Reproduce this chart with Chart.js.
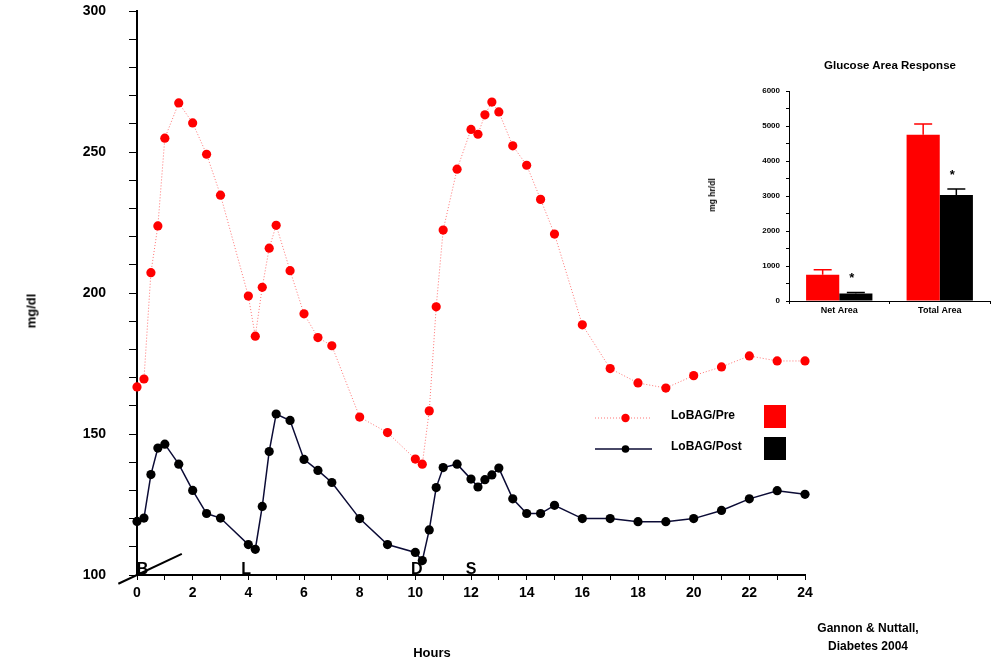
<!DOCTYPE html>
<html>
<head>
<meta charset="utf-8">
<script src="https://cdn.jsdelivr.net/npm/chart.js@4"></script>
<style>
  body { margin: 0; background: #fff; width: 993px; height: 662px; position: relative; overflow: hidden;
         font-family: "Liberation Sans", Arial, sans-serif; font-weight: bold; color: #000; }
  #main { position: absolute; left: 0; top: 0; }
  #inset { position: absolute; left: 700px; top: 50px; }
  .lbl { position: absolute; white-space: nowrap; transform: translate(-50%, -50%); }
  .rot { transform: translate(-50%, -50%) rotate(-90deg); }
</style>
</head>
<body>
<canvas id="main" width="993" height="662"></canvas>
<canvas id="inset" width="293" height="275"></canvas>

<div class="lbl rot" style="left:31px; top:311px; font-size:13px;">mg/dl</div>
<div class="lbl" style="left:432px; top:652px; font-size:13px;">Hours</div>
<div class="lbl" style="left:868px; top:628px; font-size:12px;">Gannon &amp; Nuttall,</div>
<div class="lbl" style="left:868px; top:646px; font-size:12px;">Diabetes 2004</div>
<div class="lbl" style="left:890px; top:65px; font-size:11.5px;">Glucose Area Response</div>
<div class="lbl rot" style="left:712px; top:195px; font-size:8.5px;">mg hr/dl</div>

<script>
// time points (hours) shared by both curves
const hours = [0, 0.25, 0.5, 0.75, 1, 1.5, 2, 2.5, 3, 4, 4.25, 4.5, 4.75, 5, 5.5, 6, 6.5, 7, 8, 9,
               10, 10.25, 10.5, 10.75, 11, 11.5, 12, 12.25, 12.5, 12.75, 13, 13.5, 14, 14.5, 15,
               16, 17, 18, 19, 20, 21, 22, 23, 24];

// glucose mg/dl
const preGlucose = [166.7, 169.5, 207.2, 223.8, 254.9, 267.4, 260.3, 249.2, 234.7, 198.9, 184.7, 202, 215.9, 224,
                    207.9, 192.6, 184.2, 181.3, 156, 150.5, 141.1, 139.3, 158.2, 195.1, 222.3, 243.9, 258,
                    256.3, 263.2, 267.7, 264.2, 252.2, 245.3, 233.2, 220.9, 188.7, 173.2, 168.1, 166.3,
                    170.7, 173.8, 177.7, 175.9, 175.9];
const postGlucose = [119, 120.2, 135.6, 145, 146.4, 139.3, 130, 121.8, 120.2, 110.8, 109.1, 124.3, 143.8, 157.1,
                     154.8, 141, 137.1, 132.8, 120, 110.8, 108, 105.1, 116, 131, 138.1, 139.3, 134, 131.2,
                     133.8, 135.5, 137.9, 127, 121.8, 121.8, 124.7, 120, 120, 118.9, 118.9, 120, 122.9, 127,
                     129.9, 128.6];

const seriesNames = ['LoBAG/Pre', 'LoBAG/Post'];

// meal markers
const mealLetters = ['B', 'L', 'D', 'S'];
const mealHours = [0.2, 3.92, 10.05, 12.0];

// inset: glucose area response
const areaCategories = ['Net Area', 'Total Area'];
const areaPre = [750, 4750];
const areaPost = [215, 3030];
const areaPreErr = [140, 310];
const areaPostErr = [25, 170];
const areaSignificant = [true, true];

const FONT = '"Liberation Sans", Arial, sans-serif';
const RED = '#ff0000';

Chart.defaults.font.family = FONT;
Chart.defaults.color = '#000';

const toXY = arr => arr.map((v, i) => ({ x: hours[i], y: v }));

const mainExtras = {
  id: 'mainExtras',
  afterDraw(chart) {
    const ctx = chart.ctx;
    const xs = chart.scales.x, ys = chart.scales.y;
    ctx.save();
    // slanted line near origin
    ctx.strokeStyle = '#000';
    ctx.lineWidth = 2;
    ctx.beginPath();
    ctx.moveTo(xs.getPixelForValue(-0.67), ys.getPixelForValue(96.9));
    ctx.lineTo(xs.getPixelForValue(1.61), ys.getPixelForValue(107.5));
    ctx.stroke();

    // meal letters
    ctx.font = 'bold 16px ' + FONT;
    ctx.fillStyle = '#000';
    ctx.textAlign = 'center';
    ctx.textBaseline = 'alphabetic';
    mealLetters.forEach((t, i) => {
      ctx.fillText(t, xs.getPixelForValue(mealHours[i]), ys.getPixelForValue(100) - 1);
    });

    // legend
    const rows = [{ y: 418, sq: 405 }, { y: 449, sq: 437 }];
    chart.data.datasets.forEach((ds, i) => {
      const r = rows[i];
      ctx.strokeStyle = ds.borderColor;
      ctx.lineWidth = ds.borderWidth;
      ctx.setLineDash(ds.borderDash || []);
      ctx.beginPath();
      ctx.moveTo(595, r.y);
      ctx.lineTo(652, r.y);
      ctx.stroke();
      ctx.setLineDash([]);
      ctx.fillStyle = ds.pointBackgroundColor;
      ctx.beginPath();
      ctx.arc(625.5, r.y, i === 0 ? 4.2 : 3.8, 0, Math.PI * 2);
      ctx.fill();
      ctx.fillStyle = '#000';
      ctx.font = 'bold 12px ' + FONT;
      ctx.textAlign = 'left';
      ctx.textBaseline = 'middle';
      ctx.fillText(ds.label, 671, r.y - 2);
      ctx.fillStyle = i === 0 ? RED : '#000';
      ctx.fillRect(764, r.sq, 22, 23);
    });
    ctx.restore();
  }
};

new Chart(document.getElementById('main'), {
  type: 'line',
  data: {
    datasets: [
      {
        label: seriesNames[0],
        data: toXY(preGlucose),
        borderColor: 'rgba(255,70,70,0.75)',
        borderWidth: 1,
        borderDash: [1, 2],
        pointBackgroundColor: RED,
        pointBorderColor: RED,
        pointRadius: 4.6,
        pointBorderWidth: 0,
        tension: 0,
        clip: false
      },
      {
        label: seriesNames[1],
        data: toXY(postGlucose),
        borderColor: '#0b0b35',
        borderWidth: 1.5,
        pointBackgroundColor: '#000',
        pointBorderColor: '#000',
        pointRadius: 4.6,
        pointBorderWidth: 0,
        tension: 0,
        clip: false
      }
    ]
  },
  options: {
    responsive: false,
    animation: false,
    devicePixelRatio: 1,
    layout: { padding: { top: 11, left: 0, right: 188, bottom: 0 } },
    plugins: { legend: { display: false }, tooltip: { enabled: false } },
    scales: {
      x: {
        type: 'linear',
        min: 0, max: 24,
        afterFit: s => { s.height = 87; },
        border: { display: true, color: '#000', width: 2 },
        grid: { display: true, drawOnChartArea: false, drawTicks: true, tickLength: 5, color: '#000', tickWidth: 1 },
        ticks: {
          stepSize: 1, autoSkip: false, maxRotation: 0, padding: 5,
          font: { size: 14, weight: 'bold' },
          callback: v => (v % 2 === 0 ? v : '')
        }
      },
      y: {
        min: 100, max: 300,
        afterFit: s => { s.width = 137; s.paddingTop = 8; s.paddingBottom = 8; },
        border: { display: true, color: '#000', width: 2 },
        grid: { display: true, drawOnChartArea: false, drawTicks: true, tickLength: 8, color: '#000', tickWidth: 1 },
        ticks: {
          stepSize: 10, autoSkip: false, padding: 23,
          font: { size: 14, weight: 'bold' },
          callback: v => (v % 50 === 0 ? v : '')
        }
      }
    }
  },
  plugins: [mainExtras]
});

const errorBars = {
  id: 'errorBars',
  afterDatasetsDraw(chart) {
    const ctx = chart.ctx;
    const ys = chart.scales.y;
    const errs = [areaPreErr, areaPostErr];
    ctx.save();
    chart.data.datasets.forEach((ds, i) => {
      const meta = chart.getDatasetMeta(i);
      meta.data.forEach((bar, j) => {
        const top = ys.getPixelForValue(ds.data[j] + errs[i][j]);
        ctx.strokeStyle = ds.backgroundColor;
        ctx.lineWidth = 1.5;
        ctx.beginPath();
        ctx.moveTo(bar.x, bar.y);
        ctx.lineTo(bar.x, top);
        ctx.moveTo(bar.x - 9, top);
        ctx.lineTo(bar.x + 9, top);
        ctx.stroke();
        if (i === 1 && areaSignificant[j]) {
          ctx.fillStyle = '#000';
          ctx.font = 'bold 13px ' + FONT;
          ctx.textAlign = 'center';
          ctx.textBaseline = 'middle';
          ctx.fillText('*', bar.x - 4, top - 14);
        }
      });
    });
    ctx.restore();
  }
};

new Chart(document.getElementById('inset'), {
  type: 'bar',
  data: {
    labels: areaCategories,
    datasets: [
      { label: seriesNames[0], data: areaPre, backgroundColor: RED },
      { label: seriesNames[1], data: areaPost, backgroundColor: '#000' }
    ]
  },
  options: {
    responsive: false,
    animation: false,
    devicePixelRatio: 1,
    layout: { padding: { top: 41, left: 0, right: 3, bottom: 0 } },
    categoryPercentage: 0.66,
    barPercentage: 1.0,
    plugins: { legend: { display: false }, tooltip: { enabled: false } },
    scales: {
      x: {
        afterFit: s => { s.height = 24; },
        border: { display: true, color: '#000', width: 1 },
        grid: { display: true, drawOnChartArea: false, drawTicks: true, tickLength: 3, color: '#000' },
        ticks: { padding: 1, font: { size: 9, weight: 'bold' } }
      },
      y: {
        min: 0, max: 6000,
        afterFit: s => { s.width = 89; },
        border: { display: true, color: '#000', width: 1 },
        grid: { display: true, drawOnChartArea: false, drawTicks: true, tickLength: 3, color: '#000' },
        ticks: {
          stepSize: 500, autoSkip: false, padding: 6,
          font: { size: 8, weight: 'bold' },
          callback: v => (v % 1000 === 0 ? v : '')
        }
      }
    }
  },
  plugins: [errorBars]
});
</script>
</body>
</html>
